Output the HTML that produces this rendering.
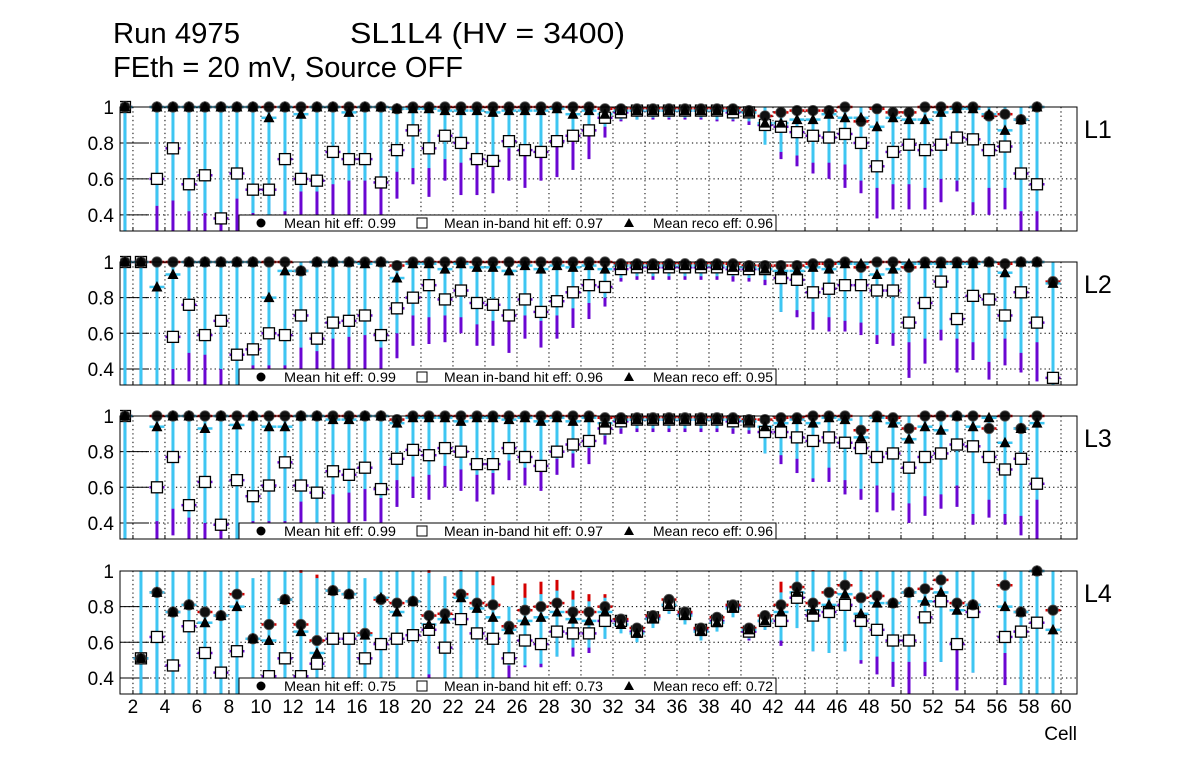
<!DOCTYPE html>
<html><head><meta charset="utf-8">
<style>
html,body{margin:0;padding:0;background:#fff;}
svg{display:block;font-family:"Liberation Sans",Arial,sans-serif;}
</style></head>
<body>
<svg id="chart" width="1196" height="772" viewBox="0 0 1196 772" xmlns="http://www.w3.org/2000/svg">
<rect x="0" y="0" width="1196" height="772" fill="#fff"/>
<text x="113" y="43" font-size="29" textLength="127" lengthAdjust="spacingAndGlyphs">Run 4975</text>
<text x="350" y="43" font-size="29" textLength="275" lengthAdjust="spacingAndGlyphs">SL1L4 (HV = 3400)</text>
<text x="113" y="77" font-size="29" textLength="350" lengthAdjust="spacingAndGlyphs">FEth = 20 mV, Source OFF</text>
</svg>
<script>
const cells = [];
for (let c = 1; c <= 59; c++) cells.push(c);
const xTickLabels = [2,4,6,8,10,12,14,16,18,20,22,24,26,28,30,32,34,36,38,40,42,44,46,48,50,52,54,56,58,60];
const yTickLabels = [0.4,0.6,0.8,1];
const panelNames = ["L1","L2","L3","L4"];
const meanHit = ["0.99","0.99","0.99","0.75"];
const meanBand = ["0.97","0.96","0.97","0.73"];
const meanReco = ["0.96","0.95","0.96","0.72"];

const hitL1 = [1,null,1,1,1,1,1,1,1,1, 1,1,1,1,1,1,1,0.99,1,1, 1,1,1,1,1,1,1,1,1,1, 0.99,0.99,0.99,0.99,0.99,0.99,0.99,0.99,0.99,0.98, 0.95,0.97,0.98,0.98,0.98,1,0.92,0.99,0.97,0.97, 1,1,1,1,0.95,0.96,0.93,1,null];
const bandL1 = [1,null,0.60,0.77,0.57,0.62,0.38,0.63,0.54,0.54, 0.71,0.60,0.59,0.75,0.71,0.71,0.58,0.76,0.87,0.77, 0.84,0.80,0.71,0.70,0.81,0.76,0.75,0.81,0.84,0.87, 0.94,0.97,0.98,0.98,0.98,0.98,0.98,0.98,0.97,0.97, 0.90,0.89,0.86,0.84,0.83,0.85,0.80,0.67,0.75,0.79, 0.76,0.79,0.83,0.82,0.76,0.78,0.63,0.57,null];
const recoL1 = [1,null,1,1,1,1,1,1,1,0.94, 1,0.96,1,1,0.97,1,1,0.99,0.99,0.99, 0.98,0.98,0.98,0.97,0.98,0.98,0.98,0.99,0.96,0.98, 0.96,0.98,0.98,0.98,0.98,0.98,0.98,0.98,0.98,0.97, 0.91,0.91,0.93,0.93,0.96,0.94,0.94,0.89,0.94,0.93, 0.93,0.97,0.99,0.99,0.96,0.87,0.93,1,null];
const recoLoL1 = [0.31,null,0.48,0.51,0.45,0.44,0.43,0.52,0.44,0.43, 0.45,0.56,0.56,0.60,0.62,0.62,0.60,0.67,0.69,0.69, 0.74,0.72,0.74,0.74,0.80,0.78,0.80,0.82,0.85,0.88, 0.92,0.96,0.96,0.97,0.97,0.97,0.97,0.96,0.96,0.95, 0.82,0.78,0.76,0.72,0.72,0.71,0.62,0.58,0.60,0.60, 0.58,0.63,0.62,0.50,0.58,0.58,0.45,0.45,null];
const bandLoL1 = [0.31,null,0.31,0.34,0.31,0.31,0.31,0.31,0.31,0.31, 0.31,0.31,0.31,0.43,0.42,0.42,0.31,0.52,0.60,0.53, 0.62,0.54,0.54,0.55,0.62,0.58,0.62,0.64,0.68,0.74, 0.86,0.95,0.96,0.96,0.96,0.96,0.96,0.95,0.95,0.93, 0.84,0.74,0.70,0.66,0.63,0.58,0.55,0.41,0.46,0.46, 0.46,0.50,0.56,0.43,0.43,0.46,0.31,0.31,null];

const hitL2 = [1,1,1,1,1,1,1,1,1,1, 1,0.95,1,1,1,1,1,0.98,1,1, 1,1,1,1,1,1,1,1,1,1, 1,0.99,0.99,0.99,0.99,0.99,0.99,0.99,0.99,0.98, 0.98,0.98,0.98,0.99,0.99,1,0.97,1,1,0.97, 1,1,1,1,1,0.99,1,1,0.89];
const bandL2 = [1,1,null,0.58,0.76,0.59,0.67,0.48,0.51,0.60, 0.59,0.70,0.57,0.66,0.67,0.70,0.59,0.74,0.80,0.87, 0.79,0.84,0.77,0.76,0.70,0.79,0.72,0.78,0.83,0.87, 0.86,0.96,0.97,0.97,0.97,0.97,0.97,0.97,0.96,0.96, 0.96,0.91,0.90,0.83,0.85,0.87,0.87,0.84,0.84,0.66, 0.77,0.89,0.68,0.81,0.79,0.70,0.83,0.66,0.35];
const recoL2 = [1,1,0.86,0.93,1,1,1,1,1,0.80, 0.95,0.95,1,1,1,0.99,1,0.91,0.99,0.99, 0.96,0.99,0.97,0.97,0.95,0.98,0.96,0.98,0.97,0.98, 0.96,0.98,0.98,0.98,0.98,0.98,0.98,0.98,0.97,0.97, 0.96,0.95,0.95,0.97,0.96,0.99,0.99,0.93,0.96,0.99, 0.99,0.99,0.99,0.99,1,0.94,1,1,0.88];
const recoLoL2 = [0.31,0.31,0.31,0.43,0.52,0.51,0.43,0.31,0.45,0.45, 0.45,0.55,0.53,0.60,0.61,0.62,0.55,0.63,0.73,0.72, 0.73,0.72,0.68,0.70,0.70,0.73,0.70,0.73,0.77,0.80, 0.83,0.94,0.95,0.95,0.95,0.95,0.95,0.95,0.95,0.94, 0.93,0.75,0.76,0.75,0.72,0.70,0.69,0.62,0.63,0.58, 0.60,0.65,0.60,0.58,0.47,0.60,0.52,0.58,0.31];
const bandLoL2 = [0.31,0.31,null,0.31,0.36,0.31,0.31,0.31,0.31,0.31, 0.31,0.31,0.31,0.37,0.36,0.31,0.31,0.49,0.56,0.57, 0.58,0.63,0.56,0.56,0.52,0.60,0.55,0.60,0.66,0.71, 0.78,0.92,0.93,0.93,0.93,0.93,0.93,0.93,0.92,0.92, 0.90,0.75,0.72,0.65,0.64,0.64,0.62,0.57,0.56,0.38, 0.46,0.59,0.41,0.48,0.37,0.45,0.41,0.36,0.31];

const hitL3 = [1,null,1,1,1,1,1,1,1,1, 1,1,1,1,1,1,1,0.98,1,1, 1,1,1,1,1,1,1,1,1,1, 0.99,0.99,0.99,0.99,0.99,0.99,0.99,0.99,0.99,0.98, 0.98,0.99,0.99,1,1,1,0.92,1,0.99,0.93, 1,1,1,1,0.93,1,0.93,1,null];
const bandL3 = [1,null,0.60,0.77,0.50,0.63,0.39,0.64,0.55,0.61, 0.74,0.61,0.57,0.69,0.67,0.71,0.59,0.76,0.81,0.78, 0.82,0.80,0.73,0.73,0.82,0.77,0.72,0.80,0.84,0.86, 0.93,0.97,0.98,0.98,0.98,0.98,0.98,0.98,0.97,0.97, 0.91,0.91,0.88,0.86,0.88,0.85,0.82,0.77,0.79,0.71, 0.77,0.79,0.84,0.83,0.77,0.70,0.76,0.62,null];
const recoL3 = [1,null,0.94,1,1,0.93,1,0.95,1,0.94, 0.94,1,1,0.98,0.98,1,1,0.96,0.99,0.99, 0.99,0.97,0.99,0.99,0.98,0.99,0.97,0.99,0.97,0.99, 0.96,0.98,0.98,0.98,0.98,0.98,0.98,0.98,0.98,0.97, 0.94,0.96,0.98,0.96,0.99,0.98,0.88,0.99,0.96,0.87, 0.94,0.92,1,0.94,0.99,0.85,0.93,0.96,null];
const recoLoL3 = [0.31,null,0.44,0.51,0.46,0.43,0.41,0.31,0.44,0.44, 0.44,0.55,0.31,0.59,0.60,0.62,0.57,0.67,0.69,0.70, 0.75,0.73,0.70,0.71,0.78,0.74,0.72,0.79,0.82,0.85, 0.92,0.96,0.96,0.96,0.96,0.96,0.96,0.96,0.96,0.95, 0.82,0.81,0.79,0.68,0.74,0.67,0.62,0.64,0.60,0.54, 0.58,0.59,0.64,0.48,0.56,0.48,0.47,0.56,null];
const bandLoL3 = [0.31,null,0.31,0.36,0.31,0.31,0.31,0.31,0.31,0.31, 0.31,0.31,0.31,0.42,0.43,0.44,0.31,0.52,0.57,0.56, 0.63,0.61,0.55,0.59,0.67,0.64,0.61,0.70,0.74,0.76, 0.87,0.93,0.94,0.94,0.94,0.94,0.94,0.94,0.93,0.93, 0.82,0.76,0.71,0.66,0.66,0.59,0.56,0.49,0.50,0.43, 0.47,0.51,0.52,0.42,0.46,0.42,0.36,0.33,null];

const hitL4 = [null,0.51,0.88,0.77,0.81,0.77,0.75,0.87,0.62,0.70, 0.84,0.70,0.61,0.89,0.87,0.65,0.84,0.82,0.83,0.75, 0.76,0.87,0.82,0.81,0.69,0.78,0.80,0.82,0.77,0.77, 0.80,0.73,0.68,0.75,0.84,0.77,0.68,0.74,0.81,0.68, 0.75,0.81,0.91,0.82,0.88,0.92,0.85,0.86,0.82,0.88, 0.90,0.95,0.82,0.81,null,0.92,0.77,1.0,0.78];
const bandL4 = [null,0.51,0.63,0.47,0.69,0.54,0.43,0.55,null,0.41, 0.51,0.41,0.48,0.62,0.62,0.51,0.59,0.62,0.64,0.67, 0.57,0.73,0.65,0.62,0.51,0.61,0.59,0.66,0.65,0.65, 0.72,0.72,0.66,0.74,0.81,0.76,0.67,0.72,0.80,0.66, 0.72,0.72,0.85,0.75,0.77,0.81,0.72,0.67,0.61,0.61, 0.74,0.83,0.59,0.77,null,0.63,0.66,0.71,null];
const recoL4 = [null,0.51,0.88,0.77,0.81,0.71,0.75,0.80,0.62,0.61, 0.84,0.66,0.54,0.89,0.87,0.64,0.85,0.77,0.83,0.70, 0.73,0.85,0.79,0.74,0.67,0.72,0.74,0.77,0.73,0.72, 0.77,0.70,0.65,0.73,0.81,0.75,0.66,0.71,0.79,0.67, 0.72,0.77,0.88,0.78,0.81,0.87,0.76,0.82,0.82,0.88, 0.83,0.88,0.78,0.81,null,0.80,0.77,1.0,0.67];
const recoHiL4 = [null,1,1,1,1,1,1,1,0.96,1, 1,0.99,0.96,1,1,0.96,1,1,1,0.99, 0.97,1,1,0.92,0.80,0.85,0.87,0.89,0.84,0.83, 0.85,0.72,0.67,0.76,0.83,0.78,0.68,0.73,0.81,0.69, 0.74,0.88,1,1,1,1,1,1,1,1, 1,1,1,1,null,1,1,1,1];
const recoLoL4 = [null,0.31,0.31,0.31,0.31,0.31,0.31,0.31,0.31,0.31, 0.31,0.31,0.31,0.31,0.31,0.31,0.31,0.31,0.31,0.45, 0.31,0.31,0.31,0.31,0.50,0.50,0.51,0.55,0.60,0.60, 0.65,0.68,0.63,0.71,0.79,0.73,0.64,0.69,0.77,0.65, 0.70,0.64,0.71,0.58,0.57,0.58,0.53,0.55,0.52,0.52, 0.52,0.52,0.62,0.46,null,0.57,0.31,0.31,0.31];
const bandLoL4 = [null,0.31,0.31,0.31,0.31,0.31,0.31,0.31,null,0.31, 0.31,0.31,0.31,0.31,0.31,0.31,0.31,0.31,0.31,0.43, 0.31,0.56,0.48,0.48,0.43,0.49,0.49,0.55,0.55,0.57, 0.65,0.70,0.64,0.72,0.79,0.74,0.65,0.70,0.78,0.64, 0.70,0.61,0.71,0.58,0.57,0.58,0.51,0.45,0.38,0.34, 0.44,0.52,0.36,0.46,null,0.39,0.31,0.39,null];
const hitHiL4 = [null,null,null,null,null,null,null,null,null,null, null,1.0,0.97,null,null,null,null,null,null,1.0, 0.96,1.0,0.99,0.96,null,0.92,0.93,0.94,0.88,0.86, 0.86,null,null,null,null,null,null,null,null,null, null,0.93,null,1.0,null,null,1.0,null,null,null, null,null,null,null,null,null,null,null,null];

const panelHit = [hitL1,hitL2,hitL3,hitL4];
const panelBand = [bandL1,bandL2,bandL3,bandL4];
const panelReco = [recoL1,recoL2,recoL3,recoL4];
const panelRecoLo = [recoLoL1,recoLoL2,recoLoL3,recoLoL4];
const panelBandLo = [bandLoL1,bandLoL2,bandLoL3,bandLoL4];

const NS = "http://www.w3.org/2000/svg";
const svg = document.getElementById("chart");
const X0 = 120, X1 = 1077, XMIN = 1.19, XMAX = 61;
const YMIN = 0.31, YMAX = 1.0;
const tops = [107, 262, 416, 571];
const bots = [231, 385, 539, 694];
const CYAN = "#3ec6f2", PURP = "#6a06d2", RED = "#d40000";

function xs(c) { return X0 + (c - XMIN) / (XMAX - XMIN) * (X1 - X0); }
function ys(p, v) { return bots[p] - (v - YMIN) / (YMAX - YMIN) * (bots[p] - tops[p]); }
function mk(tag, attrs, parent) {
  const e = document.createElementNS(NS, tag);
  for (const k in attrs) e.setAttribute(k, attrs[k]);
  (parent || svg).appendChild(e);
  return e;
}
function clampV(v) { return Math.max(YMIN - 0.01, Math.min(YMAX + 0.005, v)); }

const defs = mk("defs", {});

for (let p = 0; p < 4; p++) {
  const g = mk("g", {});
  
  
  const cp = mk("clipPath", {id: "clip" + p}, defs);
  mk("rect", {x: X0, y: tops[p] - 7, width: X1 - X0, height: bots[p] - tops[p] + 7}, cp);

  for (const t of xTickLabels) {
    if (t > XMAX) continue;
    const gl = mk("line", {x1: xs(t), x2: xs(t), y1: tops[p], y2: bots[p], stroke: "#000", "stroke-width": 1, "stroke-dasharray": "1.3,3"}, g);
    
    
  }
  for (const t of yTickLabels) {
    if (t >= 1) continue;
    const gl = mk("line", {x1: X0, x2: X1, y1: ys(p, t), y2: ys(p, t), stroke: "#000", "stroke-width": 1, "stroke-dasharray": "1.3,3"}, g);
    
    
  }
  for (const t of yTickLabels) {
    const tk = mk("line", {x1: X0, x2: X0 + 29, y1: ys(p, t), y2: ys(p, t), stroke: "#000", "stroke-width": 1}, g);
    
    
    const lb = mk("text", {x: 114, y: ys(p, t) + 7, "font-size": 19, "text-anchor": "end"}, g);
    lb.textContent = t === 1 ? "1" : t.toFixed(1);
    
    
  }
  for (const t of xTickLabels) {
    const tk = mk("line", {x1: xs(t), x2: xs(t), y1: bots[p], y2: bots[p] - 4, stroke: "#000", "stroke-width": 1}, g);
    
    
  }

  const plot = mk("g", {"clip-path": "url(#clip" + p + ")"}, g);
  
  
  const hit = panelHit[p], band = panelBand[p], reco = panelReco[p];
  const rLo = panelRecoLo[p], bLo = panelBandLo[p];

  for (let i = 0; i < cells.length; i++) {
    const cx = xs(cells[i] + 0.5);
    if (band[i] != null && bLo[i] != null) {
      const b = mk("line", {x1: cx, x2: cx, y1: ys(p, clampV(band[i] + 0.02)), y2: ys(p, clampV(bLo[i] - 0.03)), stroke: PURP, "stroke-width": 3}, plot);
      
      
    }
    if (p === 3 && hitHiL4[i] != null && hit[i] != null) {
      const r = mk("line", {x1: cx, x2: cx, y1: ys(p, clampV(hitHiL4[i] + 0.01)), y2: ys(p, hit[i]), stroke: RED, "stroke-width": 3}, plot);
      
      
    }
    if (reco[i] != null && rLo[i] != null) {
      const hi = p === 3 ? recoHiL4[i] : 1.0;
      const c = mk("line", {x1: cx, x2: cx, y1: ys(p, clampV(hi)), y2: ys(p, clampV(rLo[i] - 0.03)), stroke: CYAN, "stroke-width": 3}, plot);
      
      
    }
  }
  for (let i = 0; i < cells.length; i++) {
    const a = xs(cells[i]) + 0.5, b = xs(cells[i] + 1) - 0.5;
    if (band[i] != null) {
      const t = mk("line", {x1: a, x2: b, y1: ys(p, band[i]), y2: ys(p, band[i]), stroke: PURP, "stroke-width": 2.5}, plot);
      
      
    }
    if (hit[i] != null) {
      const t = mk("line", {x1: a, x2: b, y1: ys(p, hit[i]), y2: ys(p, hit[i]), stroke: RED, "stroke-width": 2.5}, plot);
      
      
    }
    if (reco[i] != null) {
      const t = mk("line", {x1: a, x2: b, y1: ys(p, reco[i]), y2: ys(p, reco[i]), stroke: CYAN, "stroke-width": 2.5}, plot);
      
      
    }
  }
  for (let i = 0; i < cells.length; i++) {
    const cx = xs(cells[i] + 0.5);
    if (band[i] != null) {
      const s = mk("rect", {x: cx - 5.5, y: ys(p, band[i]) - 5.5, width: 11, height: 11, fill: "#fff", stroke: "#000", "stroke-width": 1.3}, plot);
      
      
    }
  }
  for (let i = 0; i < cells.length; i++) {
    const cx = xs(cells[i] + 0.5);
    if (hit[i] != null) {
      const c = mk("circle", {cx: cx, cy: ys(p, hit[i]), r: 5.2, fill: "#111", stroke: "#555", "stroke-width": 0.8}, plot);
      
      
    }
    if (reco[i] != null) {
      const cy = ys(p, reco[i]);
      const t = mk("polygon", {points: (cx - 5.5) + "," + (cy + 4.5) + " " + (cx + 5.5) + "," + (cy + 4.5) + " " + cx + "," + (cy - 6), fill: "#000"}, plot);
      
      
    }
  }

  const lg = mk("g", {}, g);
  
  
  const lt = bots[p] - 16;
  mk("rect", {x: 239, y: lt, width: 537, height: 16, fill: "#fff", stroke: "#000", "stroke-width": 1}, lg);
  const ly = lt + 13;
  const c1 = mk("circle", {cx: 261, cy: lt + 8, r: 4.5, fill: "#000"}, lg);
  
  
  const t1 = mk("text", {x: 284, y: ly, "font-size": 14, textLength: 112, lengthAdjust: "spacingAndGlyphs"}, lg);
  t1.textContent = "Mean hit  eff: " + meanHit[p];
  
  
  const s1 = mk("rect", {x: 417, y: lt + 3, width: 10, height: 10, fill: "#fff", stroke: "#000", "stroke-width": 1}, lg);
  
  
  const t2 = mk("text", {x: 444, y: ly, "font-size": 14, textLength: 159, lengthAdjust: "spacingAndGlyphs"}, lg);
  t2.textContent = "Mean in-band hit eff: " + meanBand[p];
  
  
  const tr = mk("polygon", {points: "624," + (lt + 12) + " 634," + (lt + 12) + " 629," + (lt + 3), fill: "#000"}, lg);
  
  
  const t3 = mk("text", {x: 653, y: ly, "font-size": 14, textLength: 120, lengthAdjust: "spacingAndGlyphs"}, lg);
  t3.textContent = "Mean reco eff: " + meanReco[p];
  
  

  const fr = mk("rect", {x: X0, y: tops[p], width: X1 - X0, height: bots[p] - tops[p], fill: "none", stroke: "#000", "stroke-width": 1}, g);
  
  
  const pl = mk("text", {x: 1084, y: tops[p] + 31, "font-size": 25}, g);
  pl.textContent = panelNames[p];
  
  
}

for (const t of xTickLabels) {
  const lb = mk("text", {x: xs(t), y: 713, "font-size": 19, "text-anchor": "middle"});
  lb.textContent = String(t);
  
  
}
const xt = mk("text", {x: 1077, y: 740, "font-size": 19, "text-anchor": "end"});
xt.textContent = "Cell";


</script>
</body></html>
